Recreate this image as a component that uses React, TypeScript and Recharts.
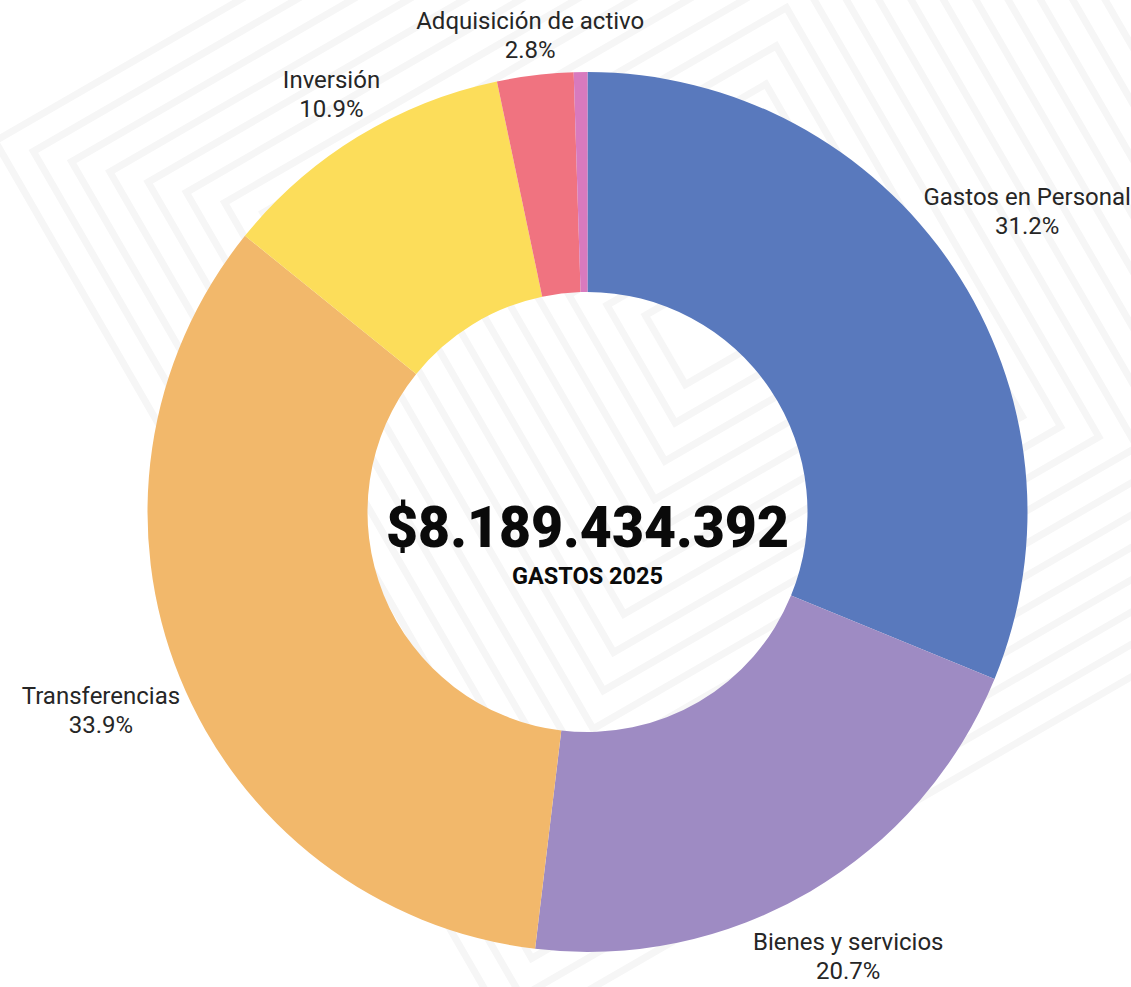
import React from 'react';
import { PieChart, Pie, Cell } from 'recharts';

const categories = [
  'Gastos en Personal',
  'Bienes y servicios',
  'Transferencias',
  'Inversión',
  'Adquisición de activo',
  'Otros',
];
const shares = [31.2, 20.7, 33.9, 10.9, 2.8, 0.5];
const colors = ['#5979BD', '#9E8BC3', '#F2B86B', '#FCDD5A', '#F07380', '#D87ABE'];
const totalLabel = '$8.189.434.392';
const subtitle = 'GASTOS 2025';

const data = categories.map((name, i) => ({ name, value: shares[i] }));

const W = 1131;
const H = 987;
const CX = 587.5;
const CY = 512;
const RAD = Math.PI / 180;
const FONT = 'Roboto, "Noto Sans", sans-serif';

const renderLabel = (props: any) => {
  const { cx, cy, midAngle, outerRadius, name, value } = props;
  if (value < 1) return null;
  const dx = Math.cos(-midAngle * RAD);
  const dy = Math.sin(-midAngle * RAD);
  const pct = `${Number(value).toFixed(1)}%`;
  const w = Math.max(name.length, pct.length) * 11.2;
  const h = 46;
  const r = outerRadius + 4 + Math.abs(dx) * (w / 2) + Math.abs(dy) * (h / 2);
  let x = cx + r * dx;
  const y = cy + r * dy;
  x = Math.min(Math.max(x, w / 2 + 3), W - w / 2 - 3);
  const b1 = y - 6;
  return (
    <text
      x={x}
      y={b1}
      textAnchor="middle"
      fill="#262626"
      style={{ fontFamily: FONT, fontSize: 24, fontWeight: 400 }}
    >
      <tspan x={x} y={b1}>{name}</tspan>
      <tspan x={x} y={b1 + 29}>{pct}</tspan>
    </text>
  );
};

const Background = () => {
  const rects = [];
  for (let i = 0; i < 18; i++) {
    const s = 80 + i * 56;
    rects.push(
      <rect
        key={i}
        x={-s / 2}
        y={-s / 2}
        width={s}
        height={s}
        fill="none"
        stroke="#f6f6f6"
        strokeWidth={7}
      />
    );
  }
  return (
    <svg width={W} height={H} style={{ position: 'absolute', left: 0, top: 0 }}>
      <rect x={0} y={0} width={W} height={H} fill="#ffffff" />
      <g transform="translate(700 330) rotate(-30)">{rects}</g>
    </svg>
  );
};

export default function App() {
  return (
    <div style={{ position: 'absolute', left: 0, top: 0, width: W, height: H, background: '#fff', overflow: 'hidden' }}>
      <Background />
      <div style={{ position: 'absolute', left: 0, top: 0 }}>
        <PieChart width={W} height={H} margin={{ top: 0, right: 0, bottom: 0, left: 0 }}>
          <Pie
            data={data}
            dataKey="value"
            nameKey="name"
            cx={CX}
            cy={CY}
            innerRadius={220}
            outerRadius={440}
            startAngle={90}
            endAngle={-270}
            paddingAngle={0}
            stroke="none"
            label={renderLabel}
            labelLine={false}
            isAnimationActive={false}
          >
            {data.map((d, i) => (
              <Cell key={d.name} fill={colors[i]} stroke="none" />
            ))}
          </Pie>
        </PieChart>
      </div>
      <svg width={W} height={H} style={{ position: 'absolute', left: 0, top: 0, pointerEvents: 'none' }}>
        <text
          x={CX}
          y={547}
          textAnchor="middle"
          textLength={403}
          lengthAdjust="spacingAndGlyphs"
          fill="#0a0a0a"
          style={{ fontFamily: FONT, fontSize: 57, fontWeight: 900 }}
        >
          {totalLabel}
        </text>
        <text
          x={CX}
          y={584}
          textAnchor="middle"
          textLength={151}
          lengthAdjust="spacingAndGlyphs"
          fill="#0a0a0a"
          style={{ fontFamily: FONT, fontSize: 24, fontWeight: 700 }}
        >
          {subtitle}
        </text>
      </svg>
    </div>
  );
}
